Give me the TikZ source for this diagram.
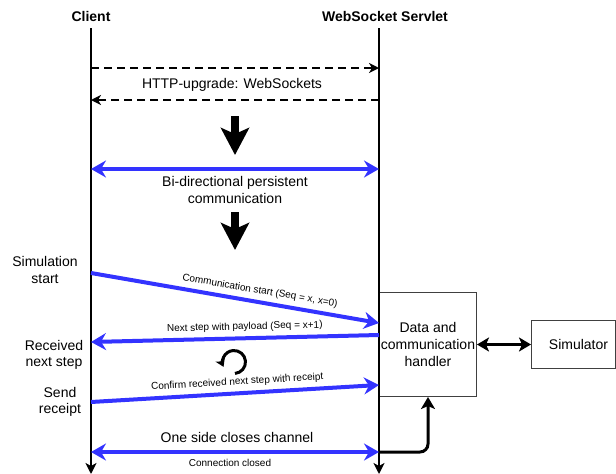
\documentclass[tikz,border=0pt]{standalone}
\usepackage{fontspec}
\setmainfont{Liberation Sans}
\usetikzlibrary{arrows.meta}
\definecolor{msgblue}{RGB}{51,51,255}
\begin{document}
\begin{tikzpicture}[x=1pt,y=-1pt,
  lifeline/.style={line width=2pt,-{Stealth[length=11pt,width=11pt,inset=3pt]}},
  handshake/.style={line width=2pt,dash pattern=on 8pt off 5pt,-{Stealth[length=10pt,width=10pt,inset=3pt]}},
  msg/.style={draw=msgblue,line width=4pt,-{Stealth[length=15pt,width=17pt,inset=5pt]}},
  duplex/.style={draw=msgblue,line width=4pt,{Stealth[length=15pt,width=17pt,inset=5pt]}-{Stealth[length=15pt,width=17pt,inset=5pt]}},
  phase/.style={line width=8pt,-{Stealth[length=27pt,width=28pt,inset=6pt]}},
  link/.style={line width=3pt,-{Stealth[length=12pt,width=14pt,inset=3pt]}},
  duallink/.style={line width=3pt,{Stealth[length=12pt,width=14pt,inset=3pt]}-{Stealth[length=12pt,width=14pt,inset=3pt]}},
  big/.style={font=\fontsize{14}{16.5}\selectfont,align=center,inner sep=0pt},
  small/.style={font=\fontsize{10}{12}\selectfont,inner sep=1pt},
  head/.style={font=\bfseries\fontsize{14}{16}\selectfont,inner sep=0pt},
  block/.style={draw=black!75,line width=1pt,fill=white,inner sep=0pt,
    font=\fontsize{14}{17}\selectfont,align=center}
]
\useasboundingbox (0,0) rectangle (616,474);

% participants
\node[head] (client) at (91,16) {Client};
\node[head] (servlet) at (385,16) {WebSocket Servlet};

% lifeline end points
\coordinate (c0) at (91,28);
\coordinate (c1) at (91,474);
\coordinate (s0) at (379,28);
\coordinate (s1) at (379,474);

% handler and simulator blocks
\node[block,minimum width=97pt,minimum height=104pt,anchor=north west] (handler) at (379,292)
  {Data and\\communication\\handler};
\node[block,minimum width=84pt,minimum height=48pt,anchor=north west] (sim) at (531,320)
  {\hspace*{10pt}Simulator};

\draw[lifeline] (c0) -- (c1);
\draw[lifeline] (s0) -- (s1);

% HTTP upgrade handshake
\coordinate (cReq) at (91,68);  \coordinate (sReq) at (379,68);
\coordinate (cRes) at (91,100); \coordinate (sRes) at (379,100);
\draw[handshake] (cReq) -- (sReq);
\draw[handshake] (sRes) -- (cRes);
\node[big] (upgrade) at (232,85) {HTTP-upgrade: WebSockets};

% phase transitions
\coordinate (p1a) at (235,116); \coordinate (p1b) at (235,155);
\coordinate (p2a) at (235,212); \coordinate (p2b) at (235,250);
\draw[phase] (p1a) -- (p1b);
\draw[phase] (p2a) -- (p2b);

% persistent channel
\coordinate (cBi) at (91,169); \coordinate (sBi) at (379,169);
\draw[duplex] (cBi) -- (sBi);
\node[big] (persist) at (235,190) {Bi-directional persistent\\communication};

% simulation exchange
\node[big] (simstart) at (45,270) {Simulation\\start};
\node[big] (received) at (54,355) {Received\\next step};
\node[big] (receipt) at (60,402) {Send\\receipt};

\coordinate (cStart) at (91,273);  \coordinate (sStart) at (379,323);
\coordinate (sNext) at (379,335);  \coordinate (cNext) at (91,342);
\coordinate (cConf) at (91,402);   \coordinate (sConf) at (379,385);

\draw[msg] (cStart) -- node[small,sloped,above=3.5pt,pos=0.58] {Communication start (Seq = x, x=0)} (sStart);
\draw[msg] (sNext) -- node[small,sloped,above=3.5pt,pos=0.465] {Next step with payload (Seq = x+1)} (cNext);
\draw[msg] (cConf) -- node[small,sloped,above=3.5pt,pos=0.51] {Confirm received next step with receipt} (sConf);

% repeat marker
\draw[line width=3pt,-{Stealth[length=8pt,width=10pt,inset=2pt]}]
  (234,362) ++(-275:11.5) arc[start angle=-275,end angle=-565,radius=11.5];

% handler <-> simulator
\draw[duallink] (handler) -- (sim);

% closing
\node[big] (closes) at (237,437) {One side closes channel};
\coordinate (cClose) at (91,452); \coordinate (sClose) at (379,452);
\draw[duplex] (cClose) -- (sClose);
\node[small] (closed) at (230,463) {Connection closed};
\draw[link,rounded corners=8pt] (sClose) -| (handler.south);
\end{tikzpicture}
\end{document}
